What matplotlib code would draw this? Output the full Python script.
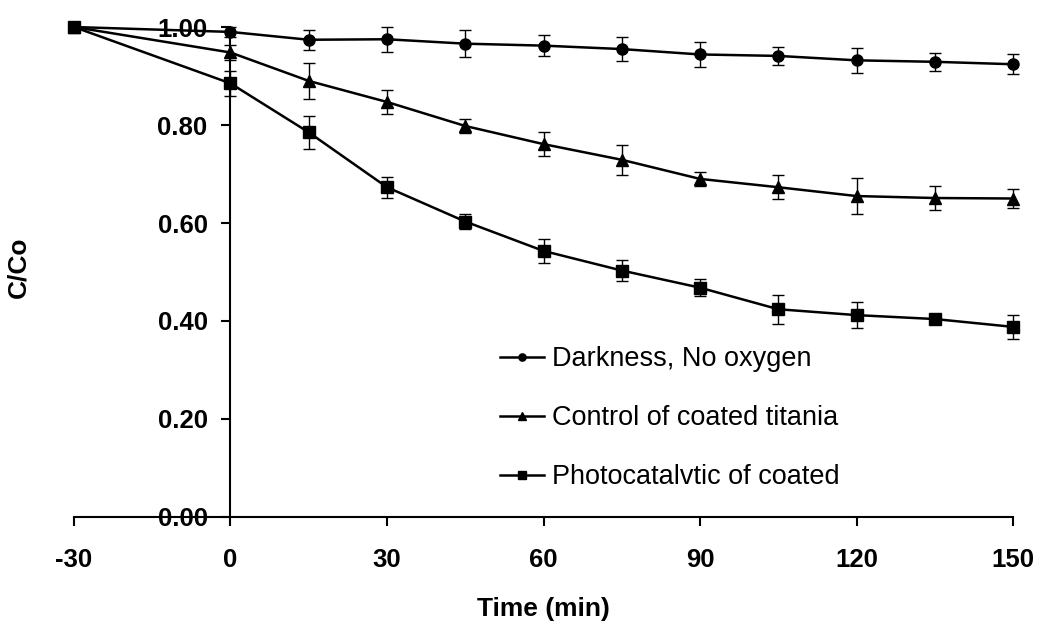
import matplotlib
matplotlib.use('Agg')
import matplotlib.pyplot as plt

# time points (min)
time = [-30, 0, 15, 30, 45, 60, 75, 90, 105, 120, 135, 150]

dark = [1.00, 0.990, 0.974, 0.975, 0.966, 0.962, 0.955, 0.944, 0.941, 0.932, 0.929, 0.924]
dark_err = [0.0, 0.010, 0.020, 0.025, 0.027, 0.021, 0.024, 0.025, 0.019, 0.025, 0.018, 0.020]

control = [1.00, 0.948, 0.890, 0.847, 0.798, 0.761, 0.729, 0.690, 0.673, 0.655, 0.651, 0.650]
control_err = [0.0, 0.015, 0.036, 0.024, 0.014, 0.024, 0.031, 0.015, 0.025, 0.036, 0.024, 0.019]

photo = [1.00, 0.885, 0.785, 0.673, 0.603, 0.543, 0.503, 0.468, 0.424, 0.412, 0.404, 0.388]
photo_err = [0.0, 0.025, 0.033, 0.021, 0.015, 0.024, 0.021, 0.018, 0.030, 0.026, 0.008, 0.024]

labels = ['Darkness, No oxygen', 'Control of coated titania', 'Photocatalvtic of coated']
markers = ['o', '^', 's']
sizes = [8, 9, 8]

plt.rcParams['font.family'] = ['Liberation Sans', 'DejaVu Sans']
plt.rcParams['axes.unicode_minus'] = False

fig = plt.figure(figsize=(10.39, 6.21), dpi=100)
ax = fig.add_axes([0.0712, 0.1675, 0.9038, 0.789])

for y, err, lab, m, ms in zip([dark, control, photo], [dark_err, control_err, photo_err],
                              labels, markers, sizes):
    ax.errorbar(time, y, yerr=err, fmt='none', ecolor='black', elinewidth=1.0,
                capsize=4, capthick=1.0, clip_on=False)
    ax.plot(time, y, color='black', lw=1.8, marker=m, markersize=ms, label=lab,
            clip_on=False, zorder=3)

ax.set_xlim(-30, 150)
ax.set_ylim(0, 1.0)
ax.set_xticks([-30, 0, 30, 60, 90, 120, 150])
ax.set_yticks([0, 0.2, 0.4, 0.6, 0.8, 1.0])
ax.set_yticklabels(['%.2f' % v for v in [0, 0.2, 0.4, 0.6, 0.8, 1.0]])

ax.spines['top'].set_visible(False)
ax.spines['right'].set_visible(False)
ax.spines['left'].set_position(('data', 0))
ax.spines['left'].set_linewidth(1.5)
ax.spines['bottom'].set_linewidth(1.5)
ax.tick_params(direction='out', length=6.5, width=1.5, labelsize=18.5)
for t in ax.get_xticklabels() + ax.get_yticklabels():
    t.set_fontweight('bold')
ax.tick_params(axis='x', pad=16)
ax.tick_params(axis='y', pad=10)

ax.set_xlabel('Time (min)', fontsize=19, fontweight='bold', labelpad=18)
fig.text(0.018, 0.57, 'C/Co', rotation=90, fontsize=19, fontweight='bold',
         ha='center', va='center')

ax.legend(loc='upper left', bbox_to_anchor=(0.428, 0.398), frameon=False,
          fontsize=19.5, handlelength=1.6, labelspacing=1.22, handletextpad=0.3,
          markerscale=0.65)

fig.savefig('out.png', dpi=100)
